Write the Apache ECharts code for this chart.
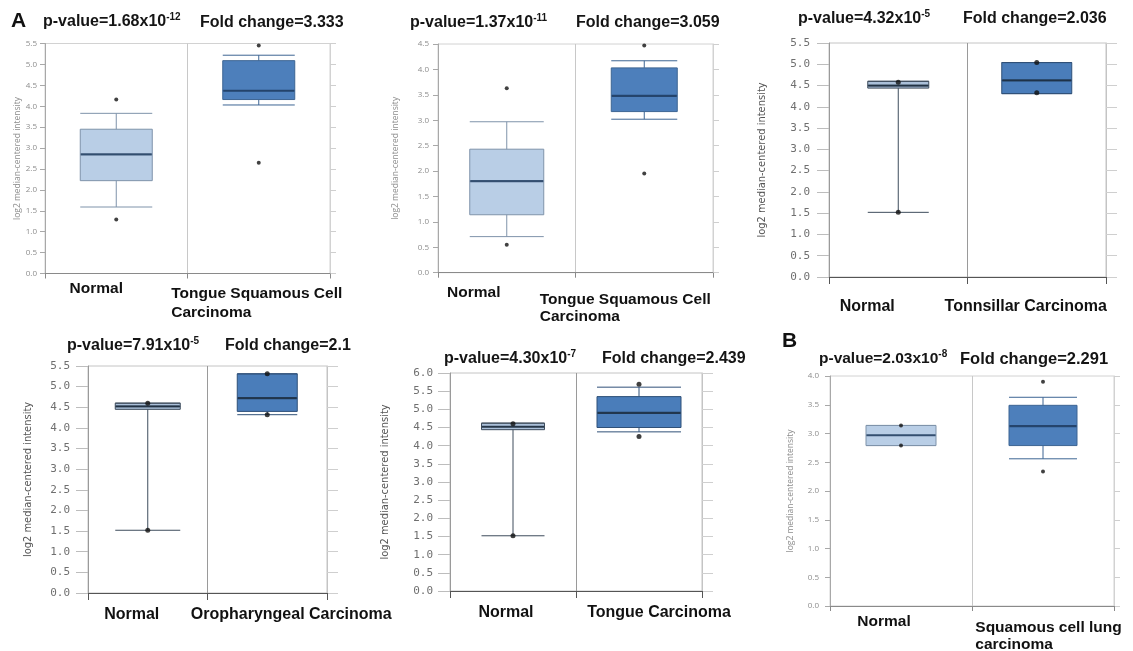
<!DOCTYPE html>
<html><head><meta charset="utf-8">
<script src="https://cdn.jsdelivr.net/npm/echarts@6/dist/echarts.min.js"></script>
<style>html,body{margin:0;padding:0;background:#fff}#c{width:1133px;height:651px}</style>
</head><body><div id="c"></div>
<script>
// ---------------- data ----------------
const categories1 = ['Normal', 'Tongue Squamous Cell\nCarcinoma'];
const categories2 = ['Normal', 'Tongue Squamous Cell\nCarcinoma'];
const categories3 = ['Normal', 'Tonnsillar Carcinoma'];
const categories4 = ['Normal', 'Oropharyngeal Carcinoma'];
const categories5 = ['Normal', 'Tongue Carcinoma'];
const categories6 = ['Normal', 'Squamous cell lung\ncarcinoma'];

// [min, Q1, median, Q3, max] for Normal and tumour
const boxes1 = [[1.59, 2.22, 2.85, 3.45, 3.83], [4.03, 4.16, 4.37, 5.09, 5.22]];
const boxes2 = [[0.71, 1.14, 1.80, 2.43, 2.97], [3.02, 3.17, 3.48, 4.03, 4.17]];
const boxes3 = [[1.52, 4.44, 4.50, 4.60, 4.60], [4.31, 4.31, 4.62, 5.04, 5.04]];
const boxes4 = [[1.52, 4.45, 4.52, 4.60, 4.60], [4.32, 4.40, 4.72, 5.31, 5.31]];
const boxes5 = [[1.52, 4.44, 4.52, 4.62, 4.62], [4.38, 4.50, 4.90, 5.35, 5.61]];
const boxes6 = [[2.79, 2.79, 2.97, 3.14, 3.14], [2.56, 2.79, 3.13, 3.49, 3.63]];

// single points [category index, value]
const points1 = [[0, 4.16], [0, 1.29], [1, 5.45], [1, 2.65]];
const points2 = [[0, 3.63], [0, 0.55], [1, 4.47], [1, 1.95]];
const points3 = [[0, 4.58], [0, 1.52], [1, 5.04], [1, 4.33]];
const points4 = [[0, 4.60], [0, 1.52], [1, 5.31], [1, 4.32]];
const points5 = [[0, 4.60], [0, 1.52], [1, 5.69], [1, 4.25]];
const points6 = [[0, 3.14], [0, 2.79], [1, 3.90], [1, 2.34]];

const pValueMantissa = ['1.68', '1.37', '4.32', '7.91', '4.30', '2.03'];
const pValueExponent = ['-12', '-11', '-5', '-5', '-7', '-8'];
const foldChanges = ['3.333', '3.059', '2.036', '2.1', '2.439', '2.291'];
const panelLetters = ['A', '', '', '', '', 'B'];
const yMax = [5.5, 4.5, 5.5, 5.5, 6.0, 4.0];
const yStep = 0.5;
const yAxisName = 'log2 median-centered intensity';

// ---------------- layout / style ----------------
const allCats = [categories1, categories2, categories3, categories4, categories5, categories6];
const allBoxes = [boxes1, boxes2, boxes3, boxes4, boxes5, boxes6];
const allPoints = [points1, points2, points3, points4, points5, points6];

const layouts = [
  {l:45, r:330, t:43.5, b:273.5, kind:'onc', bw:[72,72], labMargin:8, nameGap:22, xMargin:6, nPadTop:0, padTop:7, nShift:-20, tShift:-2, lineH:19, mLineH:22, letter:[11,9], p:[43,12], f:[200,13], pSize:16, fSize:16},
  {l:438, r:713, t:44, b:272.7, kind:'onc', bw:[74,66], labMargin:9, nameGap:38, xMargin:11, nPadTop:0, padTop:11, nShift:-33, tShift:-19, lineH:18.5, mLineH:22, p:[410,13], f:[576,13], pSize:16, fSize:16},
  {l:829, r:1106, t:43, b:277, kind:'old', bw:[61,70], labMargin:19, nameGap:61, xMargin:20, nPadTop:0, padTop:0, nShift:-31, tShift:-11, lineH:19, mLineH:19, p:[798,9], f:[963,9], pSize:16, fSize:16},
  {l:88, r:327, t:366, b:593, kind:'old', bw:[65,60], labMargin:18, nameGap:54, xMargin:12.5, nPadTop:0, padTop:0, nShift:-16, tShift:24, lineH:19, mLineH:19, p:[67,336], f:[225,336], pSize:16, fSize:16},
  {l:450, r:702, t:373, b:591, kind:'old', bw:[63,84], labMargin:17, nameGap:59, xMargin:12.5, nPadTop:0, padTop:0, nShift:-7, tShift:20, lineH:19, mLineH:19, p:[444,349], f:[602,349], pSize:16, fSize:16},
  {l:830, r:1114, t:376, b:606, kind:'onc', bw:[70,68], labMargin:11, nameGap:35, xMargin:6, nPadTop:2, padTop:10, nShift:-17, tShift:5.5, lineH:17, mLineH:22, letter:[782,329], p:[819,349], f:[960,349], pSize:15.5, fSize:16.5}
];

const kinds = {
  onc: {labelFont:"'Open Sans', sans-serif", labelSize:8, labelColor:'#8d8d8d',
        nameFont:"'Open Sans', sans-serif", nameSize:8.5, nameColor:'#8d8d8d',
        tickLen:5, tickColor:'#a8a8a8', axisColor:'#a8a8a8', bottomColor:'#8a8a8a', xTick:5,
        splitColor:'#c8c8c8', frame:'#d2d2d2', rTick:6,
        fills:['#b9cee6', '#4d7fbb'], borders:['#7f93aa', '#3d6593'], median:'#1d3a5e',
        pt:4, xSize:15.5},
  old: {labelFont:"'DejaVu Sans Mono', monospace", labelSize:11, labelColor:'#6f6f6f',
        nameFont:"'Liberation Sans Narrow','DejaVu Sans Condensed',sans-serif", nameSize:11, nameColor:'#555',
        tickLen:12, tickColor:'#bdbdbd', axisColor:'#9a9a9a', bottomColor:'#555', xTick:7,
        splitColor:'#9a9a9a', frame:'#c4c4c4', rTick:11,
        fills:['#abc0d9', '#4a7dba'], borders:['#3e4c5c', '#2f5078'], median:'#1a2a3c',
        pt:5, xSize:16}
};

const boldFont = "'Liberation Sans', Arial, sans-serif";
const grids = [], xAxes = [], yAxes = [], series = [], titles = [];

function pad(shift, top) {
  return shift < 0 ? [top, -2 * shift, 0, 0] : [top, 0, 0, 2 * shift];
}

for (let i = 0; i < 6; i++) {
  const L = layouts[i], K = kinds[L.kind];
  grids.push({left:L.l, top:L.t, width:L.r - L.l, height:L.b - L.t, show:true,
              borderColor:K.frame, borderWidth:1, backgroundColor:'#fff',
              containLabel:false, outerBoundsMode:'none'});
  const txt = {fontFamily:boldFont, fontWeight:'bold', fontSize:K.xSize, color:'#111', lineHeight:L.lineH};
  const mtxt = Object.assign({}, txt, {lineHeight:L.mLineH, align:'left'});
  xAxes.push({
    type:'category', gridIndex:i, data:allCats[i], boundaryGap:true,
    axisLine:{show:true, lineStyle:{color:K.bottomColor, width:1.2}},
    axisTick:{show:true, length:K.xTick, lineStyle:{color:K.bottomColor}},
    splitLine:{show:true, lineStyle:{color:K.splitColor, width:1}},
    axisLabel:{
      interval:0, margin:L.xMargin,
      formatter:(value, idx) => {
        if (idx === 0) return '{n|' + value + '}';
        const lines = value.split('\n');
        if (lines.length === 1) return '{t|' + value + '}';
        return lines.map((s, k) => (k === 0 ? '{m0|' : '{m|') + s + '}').join('\n');
      },
      rich:{
        n:Object.assign({}, txt, {padding:pad(L.nShift, L.nPadTop)}),
        t:Object.assign({}, txt, {padding:pad(L.tShift, L.padTop)}),
        m0:Object.assign({}, mtxt, {padding:[L.padTop, L.tShift < 0 ? -2 * L.tShift : 0, 0, L.tShift > 0 ? 2 * L.tShift : 0]}),
        m:Object.assign({}, mtxt, {padding:[0, 0, 0, L.tShift > 0 ? 2 * L.tShift : 0]})
      }
    }
  });
  xAxes.push({type:'category', gridIndex:i, data:allCats[i], boundaryGap:true, show:false});

  yAxes.push({
    type:'value', gridIndex:i, min:0, max:yMax[i], interval:yStep,
    axisLine:{show:true, lineStyle:{color:K.axisColor}},
    axisTick:{show:true, length:K.tickLen, lineStyle:{color:K.tickColor}},
    splitLine:{show:false},
    axisLabel:{formatter:v => v.toFixed(1), margin:L.labMargin, fontFamily:K.labelFont,
               fontSize:K.labelSize, color:K.labelColor},
    name:yAxisName, nameLocation:'middle', nameGap:L.nameGap,
    nameTextStyle:{fontFamily:K.nameFont, fontSize:K.nameSize, color:K.nameColor}
  });
  yAxes.push({
    type:'value', gridIndex:i, position:'right', min:0, max:yMax[i], interval:yStep,
    axisLine:{show:true, lineStyle:{color:K.frame}},
    axisTick:{show:true, length:K.rTick, lineStyle:{color:'#cfcfcf'}},
    axisLabel:{show:false}, splitLine:{show:false}
  });

  for (let c = 0; c < 2; c++) {
    series.push({
      type:'boxplot', xAxisIndex:2 * i + c, yAxisIndex:2 * i,
      data:[[c].concat(allBoxes[i][c])],
      encode:{x:0, y:[1, 2, 3, 4, 5]},
      boxWidth:[L.bw[c], L.bw[c]],
      itemStyle:{color:K.fills[c], borderColor:K.borders[c], borderWidth:1},
      silent:true, z:2
    });
  }
  series.push({
    type:'scatter', xAxisIndex:2 * i, yAxisIndex:2 * i, symbol:'rect', silent:true, z:3,
    data:allBoxes[i].map((b, c) => ({value:[c, b[2]], symbolSize:[L.bw[c] - 1, 2.2]})),
    itemStyle:{color:K.median}
  });
  series.push({
    type:'scatter', xAxisIndex:2 * i, yAxisIndex:2 * i, symbol:'circle', symbolSize:K.pt,
    silent:true, z:4, data:allPoints[i], itemStyle:{color:'#111'}
  });

  const rich = {
    n:{fontFamily:boldFont, fontWeight:'bold', fontSize:L.pSize, color:'#151515', lineHeight:20},
    s:{fontFamily:boldFont, fontWeight:'bold', fontSize:10, color:'#151515', lineHeight:11, verticalAlign:'top'}
  };
  if (panelLetters[i]) {
    titles.push({left:L.letter[0], top:L.letter[1], padding:0, text:panelLetters[i],
                 textStyle:{fontFamily:boldFont, fontWeight:'bold', fontSize:21, color:'#111', lineHeight:24}});
  }
  titles.push({left:L.p[0], top:L.p[1], padding:0,
               text:'{n|p-value=' + pValueMantissa[i] + 'x10}{s|' + pValueExponent[i] + '}',
               textStyle:{rich:rich}});
  titles.push({left:L.f[0], top:L.f[1], padding:0, text:'Fold change=' + foldChanges[i],
               textStyle:{fontFamily:boldFont, fontWeight:'bold', fontSize:L.fSize, color:'#151515', lineHeight:20}});
}

const chart = echarts.init(document.getElementById('c'), null, {renderer:'canvas'});
chart.setOption({
  animation:false, backgroundColor:'#fff',
  title:titles, grid:grids, xAxis:xAxes, yAxis:yAxes, series:series
});
</script></body></html>
